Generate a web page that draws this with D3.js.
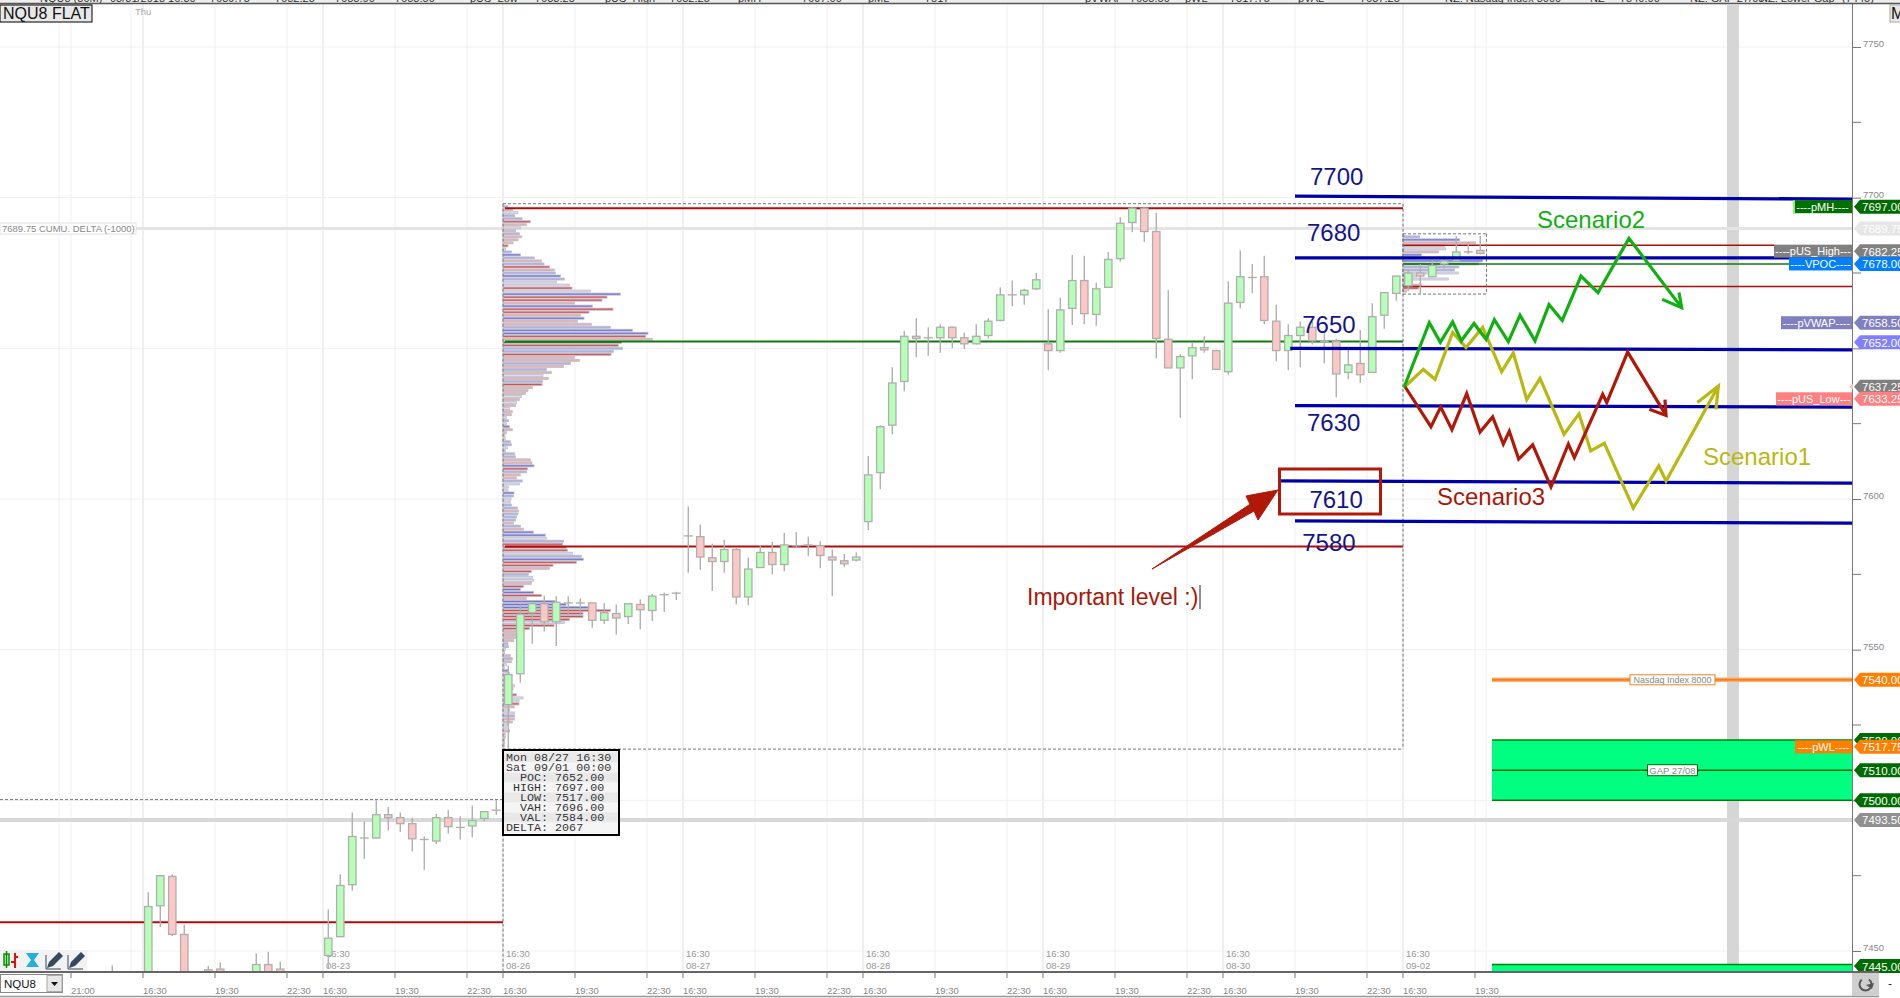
<!DOCTYPE html>
<html>
<head>
<meta charset="utf-8">
<title>NQU8 FLAT</title>
<script src="https://cdnjs.cloudflare.com/ajax/libs/d3/7.8.5/d3.min.js"></script>
<style>
    html, body { margin: 0; padding: 0; background: #fff; overflow: hidden; }
    svg { display: block; font-family: "Liberation Sans", Arial, sans-serif; }
</style>
</head>
<body>
<div id="chart"></div>
<script>
// bar number counted from the 08-22 16:30 bar, 15 bars per session
const candleIdx = [-3, 0, 1, 2, 3, 5, 6, 9, 10, 11].concat(d3.range(15, 112));
const opens = [
    7440, 7440, 7465, 7474.75, 7455.5, 7443.75, 7444, 7441, 7445.5, 7444,
    7448.5, 7454.75, 7472, 7487.5, 7487.5, 7495.25, 7494.25, 7492.25, 7487, 7486.5, 7494.25, 7491, 7491.5, 7494, 7496.75,
    7531.75, 7542, 7562.25, 7565.25, 7559.25, 7565.5, 7565.5, 7565.5, 7559.75, 7562, 7561, 7565, 7563, 7568.25, 7568.75,
    7587.75, 7587.5, 7580.5, 7579.25, 7583.25, 7567.5, 7577.25, 7582.25, 7578.25, 7584.5, 7584.75, 7584.5, 7580.75, 7579.5, 7579.75,
    7592.5, 7608.75, 7624.5, 7639, 7654, 7653.5, 7653.5, 7657, 7653.5, 7651.5, 7654.25, 7659.25, 7667.75, 7667.75, 7669.75,
    7651.5, 7649.25, 7663.25, 7672.5, 7661.25, 7670.25, 7679.75, 7691.75, 7696.5, 7688.75, 7653, 7643.5, 7647.5, 7650.25, 7649.25,
    7642.25, 7665.25, 7673.5, 7673.75, 7659, 7649.25, 7654.25, 7657, 7652.25, 7652.25, 7642, 7645, 7642, 7661, 7668.25,
    7670.75, 7675, 7673.75, 7678, 7679, 7682, 7682.5
];
const closes = [
    7441, 7464.75, 7475, 7455.5, 7440, 7442, 7442, 7445.5, 7441, 7441,
    7454.25, 7471.75, 7488, 7487.5, 7495.25, 7494.25, 7492.25, 7487.25, 7487, 7494.25, 7491.25, 7491, 7493.25, 7496.25, 7496.75,
    7541.75, 7561.75, 7565.25, 7559.25, 7565.75, 7565.5, 7565.5, 7559.75, 7562.25, 7560.5, 7565.25, 7563.25, 7567.75, 7568.25, 7568.75,
    7587.75, 7580.75, 7579.25, 7583.25, 7567.5, 7576.75, 7582.25, 7578.25, 7584.75, 7584.5, 7584.75, 7581.25, 7579.75, 7578.5, 7580.75,
    7608, 7624, 7638.5, 7654, 7653.25, 7653.5, 7657, 7653.5, 7651.5, 7654, 7659, 7667.75, 7667.75, 7669.25, 7672.75,
    7649.25, 7662.75, 7672.5, 7661.5, 7669.75, 7679.5, 7691.5, 7696.5, 7688.75, 7653.25, 7643.5, 7647.25, 7650.25, 7649.5, 7643,
    7665, 7673.75, 7673.5, 7659.25, 7649.25, 7654.25, 7657, 7652.5, 7652.25, 7641.5, 7644.5, 7641.25, 7660.5, 7668.5, 7674,
    7675, 7674, 7677.5, 7679, 7682, 7682, 7681.5
];
const highs = [
    7445.25, 7469.5, 7475, 7475.5, 7458.75, 7445, 7446.25, 7449.25, 7449.75, 7446.5,
    7463.75, 7475.5, 7496, 7493, 7500, 7497.75, 7496, 7494.25, 7488, 7495.5, 7496.75, 7494.75, 7498.25, 7496.25, 7500,
    7544.75, 7565, 7566, 7568, 7567.75, 7567.75, 7567, 7565.5, 7565.5, 7565, 7565.25, 7566.75, 7568.5, 7569, 7569.25,
    7597.5, 7591.5, 7585.25, 7586.5, 7583.75, 7580.5, 7584.75, 7585.75, 7588.75, 7589, 7587.5, 7586, 7583.25, 7581.75, 7582.25,
    7614.25, 7624.5, 7643.75, 7655.75, 7660, 7657, 7658, 7657.25, 7655.25, 7658, 7660, 7670.25, 7672.5, 7669.75, 7675,
    7663, 7666.75, 7681, 7680.75, 7671.75, 7682, 7693.5, 7697, 7697, 7695, 7669.25, 7648, 7652, 7654, 7649.5,
    7672.25, 7682.5, 7678, 7680.75, 7664.5, 7658, 7659, 7659, 7655, 7653.25, 7650, 7656, 7665, 7668.5, 7674,
    7676.25, 7678, 7679.5, 7680.5, 7687.25, 7685.25, 7687.25
];
const lows = [
    7438, 7440, 7458, 7455, 7438, 7440, 7440, 7440, 7440, 7440,
    7444, 7454.75, 7470, 7480.5, 7487.25, 7490, 7489.5, 7483, 7477, 7485.5, 7489, 7487, 7487.75, 7493, 7495.25,
    7517, 7539, 7552, 7556, 7551.25, 7561.5, 7561.5, 7557.25, 7558.5, 7555, 7558.5, 7556.75, 7559.5, 7562.5, 7566.5,
    7575.5, 7576.5, 7569.5, 7575.5, 7565, 7564.75, 7577.25, 7575, 7576, 7584, 7581, 7577, 7567.75, 7577.5, 7579.25,
    7589.75, 7603.25, 7621.5, 7635.75, 7647, 7647.5, 7648.5, 7650, 7649.75, 7651.25, 7653.25, 7659, 7664, 7664.5, 7669.25,
    7642.75, 7648.5, 7657.75, 7658, 7657.5, 7670, 7678.75, 7688.5, 7685.25, 7646.75, 7643.5, 7627, 7639.75, 7648.5, 7643,
    7641.25, 7663.25, 7668.25, 7658, 7645.75, 7642.75, 7643.75, 7651.25, 7645, 7633.75, 7639.75, 7638.5, 7642, 7656.5, 7665.75,
    7669, 7668, 7673.75, 7676.5, 7679, 7681.25, 7681.25
];

// volume profile 08-27 -> 09-01, one row per point from 7697 down
const profileTop = 7697;
const profileVol = [
    15, 28, 45, 35, 57, 82, 70, 52, 38, 49, 55, 45, 30, 15, 8, 25, 52, 94, 115, 123,
    139, 154, 157, 172, 184, 160, 199, 207, 262, 352, 312, 297, 214, 268, 330, 258, 232, 243, 223, 265,
    322, 388, 435, 428, 448, 355, 346, 358, 331, 324, 214, 229, 202, 181, 130, 145, 120, 136, 118, 117,
    88, 75, 67, 55, 49, 40, 37, 20, 28, 25, 10, 16, 10, 19, 28, 10, 6, 7, 22, 25, 13,
    7, 35, 37, 82, 87, 93, 73, 70, 52, 40, 58, 49, 16, 15, 33, 31, 24, 22, 25, 43,
    46, 45, 40, 37, 31, 52, 61, 91, 127, 130, 181, 178, 190, 193, 208, 235, 241, 220, 150, 139,
    85, 76, 88, 91, 85, 61, 52, 91, 115, 70, 156, 189, 255, 322, 240, 240, 199, 184, 153, 79,
    40, 38, 38, 32, 15, 16, 7, 5, 22, 28, 25, 10, 4, 16, 20, 15, 10, 10, 35, 30,
    10, 40, 60, 48, 48, 34, 20, 34, 35, 34, 28, 15, 10, 20, 7, 7, 5, 5, 4, 4
];
const profileKind = ("brlbbRrlrbrrrRlbBbrbRrbBbllRlBRRrBRRrBrrbBBRrGRbbRrrbrbrlrbRrrrlrlrlrrlblBrrllbbl" +
    "bbbrrBRbrrblllBbllbbrbbbrbrBBlbRRRlbBRRrRbllrRBBRrBBBRRRRlRRrrrrbbllrbrllBllllll" + "lRllRrllbrrllrrrrrrr").split("");

// small profile of the 09-02 session
const smallTop = 7687;
const smallVol = [50, 170, 218, 125, 128, 106, 55, 40, 238, 227, 168, 154, 166, 40, 136, 28, 55, 46, 10];
const smallKind = "bBrrlrBbBGbbllllrRr".split("");

// scenario drawings, bar number and price
const scen2Idx = [105.08, 107.19, 108.11, 109.14, 109.86, 110.92, 111.92, 112.61, 113.78, 114.75, 116, 117.17, 118.27, 119.83, 121.25, 123.83, 128.22];
const scen2Px = [7637, 7658.5, 7652, 7658.75, 7652.5, 7658.25, 7653, 7659.5, 7652.25, 7661, 7652.5, 7664.5, 7659.25, 7674, 7668.5, 7686.5, 7663.5];
const scen2HeadIdx = [126.6, 128.22, 128];
const scen2HeadPx = [7666.25, 7663.5, 7668.5];

const scen1Idx = [105.08, 106.69, 107.67, 109.14, 110.25, 111.64, 113.22, 114.19, 115.31, 116.42, 118.42, 119.67, 120.64, 121.78, 124.19, 126.31, 126.92, 131.28];
const scen1Px = [7637, 7643, 7639.75, 7655.25, 7650.25, 7657, 7642.25, 7648.5, 7633, 7640, 7621.5, 7628.25, 7616, 7618.5, 7597, 7611, 7606, 7637.5];
const scen1HeadIdx = [129.53, 131.28, 131.08];
const scen1HeadPx = [7632, 7637.5, 7629.75];

const scen3Idx = [105.17, 107.33, 108.14, 109.08, 110.31, 111.42, 112.47, 113.36, 113.86, 114.64, 115.81, 117.33, 118.78, 119.28, 121.64, 121.98, 123.72, 126.92];
const scen3Px = [7637.25, 7624, 7630.5, 7623, 7635, 7622.25, 7627.25, 7618.25, 7622.5, 7613.25, 7618, 7604, 7618.25, 7613.75, 7634.75, 7632, 7648.75, 7627.75];
const scen3HeadIdx = [125.53, 126.92, 126.83];
const scen3HeadPx = [7629.75, 7627.75, 7633];

// hand drawn blue levels: start bar, price at start, price at the right edge
const blueNames = ["7700", "7680", "7650", "7630", "7610", "7580"];
const blueStart = [96, 96, 95.6, 96, 94.7, 96];
const bluePxA = [7700.5, 7680, 7650, 7631, 7606, 7592.75];
const bluePxB = [7699.5, 7680, 7649.5, 7630.5, 7605.25, 7592];
const blueNameIdx = [97.25, 97, 96.6, 97, 97.2, 96.6];
const blueNamePx = [7704.25, 7685.5, 7655, 7622.5, 7597, 7582.75];

const arrowIdx = [84.08, 92.25, 91.92, 94.58, 92.92, 92.58];
const arrowPx = [7576.75, 7598.25, 7601, 7603, 7593, 7596];

// price tags on the right edge
const tagPx = [7697, 7689.75, 7682.25, 7678, 7658.5, 7652, 7637.25, 7633.25, 7540, 7520, 7517.75, 7510, 7500, 7493.5, 7445];
const tagText = ["7697.00", "7689.75", "7682.25", "7678.00", "7658.50", "7652.00", "7637.25", "7633.25", "7540.00", "7520.00", "7517.75", "7510.00", "7500.00", "7493.50", "7445.00"];
const tagFill = ["#006b00", "#e6e6e6", "#808080", "#0080ff", "#8080c0", "#8080ff", "#808080", "#ff8080", "#ff8000", "#006b00", "#ff8000", "#006b00", "#006b00", "#909090", "#006b00"];

const noteText = ["----pMH----", "----pUS_High---", "----VPOC----", "----pVWAP----", "----pUS_Low---", "----pWL----"];
const notePx = [7697, 7682.25, 7678, 7658.5, 7633.25, 7517.75];
const noteWidth = [59, 78, 63, 71, 76, 57];
const noteFill = ["#007000", "#808080", "#0080ff", "#8080c0", "#ff8080", "#ff8000"];

const priceTicks = [7750, 7700, 7650, 7600, 7550, 7500, 7450];
const priceMinor = [7725, 7675, 7625, 7575, 7525, 7475];

const sessionIdx = [15, 30, 45, 60, 75, 90, 105];
const sessionDates = ["08-23", "08-26", "08-27", "08-28", "08-29", "08-30", "09-02"];
const timeIdx = [-6, 0, 6, 12, 15, 21, 27, 30, 36, 42, 45, 51, 57, 60, 66, 72, 75, 81, 87, 90, 96, 102, 105, 111];
const timeLabels = ["21:00", "16:30", "19:30", "22:30", "16:30", "19:30", "22:30", "16:30", "19:30", "22:30", "16:30", "19:30", "22:30", "16:30", "19:30", "22:30", "16:30", "19:30", "22:30", "16:30", "19:30", "22:30", "16:30", "19:30"];
const extraGridIdx = [-7, -1, 111.92];

const statsRows = ["Mon 08/27 16:30", "Sat 09/01 00:00", "  POC: 7652.00", " HIGH: 7697.00", "  LOW: 7517.00", "  VAH: 7696.00", "  VAL: 7584.00", "DELTA: 2067"];

const topBarX = [40, 110, 210, 275, 335, 395, 470, 535, 605, 670, 738, 802, 868, 925, 1085, 1130, 1185, 1230, 1298, 1360, 1445, 1590, 1620, 1690, 1760, 1842];
const topBarText = ["NQU8 (30M)", "08/31/2018 16:30", "7689.75", "7652.25", "7685.00", "7658.50", "pUS_Low", "7633.25", "pUS_High", "7682.25", "pMH", "7697.00", "pML", "7517", "pVWAP", "7658.50", "pWL", "7517.75", "pVAL", "7637.25", "NZ: Nasdaq Index 8000", "NZ", "7540.00", "NZ: GAP 27/08", "NZ: Lower Gap", "(7445)"];

const W = 1900, H = 998;
const chartRight = 1852, chartBottom = 972;

const x = d3.scaleLinear().domain([0, 105]).range([143, 1403]);
const y = d3.scaleLinear().domain([7750, 7450]).range([47, 951]);
const vol = d3.scaleLinear().domain([0, 450]).range([0, 150]);

const kindColor = { b: "#aeb0ea", B: "#7074e0", l: "#dcdcf2", r: "#ecb0b0", R: "#dc4c4c", G: "#2a7a10" };

const svg = d3.select("#chart").append("svg")
    .attr("width", W)
    .attr("height", H);

svg.append("defs").append("clipPath").attr("id", "plot-clip")
    .append("rect")
    .attr("x", 0).attr("y", 4)
    .attr("width", chartRight).attr("height", chartBottom - 4);

const plot = svg.append("g").attr("clip-path", "url(#plot-clip)");

// grid
plot.selectAll(".hgrid")
    .data(priceTicks)
    .enter()
    .append("line")
    .attr("x1", 0).attr("x2", chartRight)
    .attr("y1", d => y(d)).attr("y2", d => y(d))
    .attr("stroke", "#f0f0f0");

plot.selectAll(".vgrid")
    .data(timeIdx.concat(extraGridIdx))
    .enter()
    .append("line")
    .attr("x1", d => x(d)).attr("x2", d => x(d))
    .attr("y1", 4).attr("y2", chartBottom)
    .attr("stroke", "#f1f1f1");

plot.selectAll(".sgrid")
    .data([0].concat(sessionIdx))
    .enter()
    .append("line")
    .attr("x1", d => x(d)).attr("x2", d => x(d))
    .attr("y1", 4).attr("y2", chartBottom)
    .attr("stroke", "#efefef")
    .attr("stroke-width", 2);

// time labels sitting inside the plot
sessionIdx.forEach((s, i) => {
    const g = plot.append("g").attr("fill", "#999").style("font-size", "9.5px");
    g.append("text").attr("x", x(s) + 3).attr("y", 957).text("16:30");
    g.append("text").attr("x", x(s) + 3).attr("y", 969).text(sessionDates[i]);
});

plot.append("text")
    .attr("x", 135).attr("y", 15)
    .attr("fill", "#aaa")
    .style("font-size", "9.5px")
    .text("Thu");

// grey band, wide lines
plot.append("rect")
    .attr("x", 1727).attr("y", 5)
    .attr("width", 12).attr("height", 959)
    .attr("fill", "#d6d6d6");

plot.append("line")
    .attr("x1", 0).attr("x2", chartRight)
    .attr("y1", y(7689.75)).attr("y2", y(7689.75))
    .attr("stroke", "#e4e4e4").attr("stroke-width", 3);

plot.append("line")
    .attr("x1", 0).attr("x2", chartRight)
    .attr("y1", y(7493.5)).attr("y2", y(7493.5))
    .attr("stroke", "#d8d8d8").attr("stroke-width", 4);

// zones
function zone(top, bottom, label) {
    plot.append("rect")
        .attr("x", 1492).attr("y", y(top))
        .attr("width", chartRight - 1492).attr("height", y(bottom) - y(top))
        .attr("fill", "#00ff80");
    plot.append("line")
        .attr("x1", 1492).attr("x2", chartRight)
        .attr("y1", y(top)).attr("y2", y(top))
        .attr("stroke", "#008000").attr("stroke-width", 1.5);
    plot.append("line")
        .attr("x1", 1492).attr("x2", chartRight)
        .attr("y1", y(bottom)).attr("y2", y(bottom))
        .attr("stroke", "#008000").attr("stroke-width", 1.5);
}
zone(7520, 7500);
zone(7445.5, 7440);

plot.append("line")
    .attr("x1", 1492).attr("x2", chartRight)
    .attr("y1", y(7510)).attr("y2", y(7510))
    .attr("stroke", "#006b00").attr("stroke-width", 1.5);

plot.append("rect")
    .attr("x", 1647.5).attr("y", y(7510) - 5.5)
    .attr("width", 50).attr("height", 11)
    .attr("fill", "#fff").attr("stroke", "#006b00");
plot.append("text")
    .attr("x", 1672.5).attr("y", y(7510) + 3.5)
    .attr("text-anchor", "middle")
    .attr("fill", "#888")
    .style("font-size", "9.5px")
    .text("GAP 27/08");

plot.append("line")
    .attr("x1", 1492).attr("x2", chartRight)
    .attr("y1", y(7540)).attr("y2", y(7540))
    .attr("stroke", "#ffb070").attr("stroke-width", 4.5);
plot.append("line")
    .attr("x1", 1492).attr("x2", chartRight)
    .attr("y1", y(7540)).attr("y2", y(7540))
    .attr("stroke", "#f08020").attr("stroke-width", 2);
plot.append("rect")
    .attr("x", 1630).attr("y", y(7540) - 5)
    .attr("width", 85).attr("height", 10)
    .attr("fill", "#fff").attr("stroke", "#f08020");
plot.append("text")
    .attr("x", 1672.5).attr("y", y(7540) + 3.5)
    .attr("text-anchor", "middle")
    .attr("fill", "#888")
    .style("font-size", "9px")
    .text("Nasdaq Index 8000");

// volume profiles
function drawProfile(vols, kinds, top, x0) {
    plot.append("g")
        .selectAll("rect")
        .data(vols)
        .enter()
        .append("rect")
        .attr("x", x0)
        .attr("y", (d, i) => y(top - i) - 1)
        .attr("width", d => vol(d))
        .attr("height", 2)
        .attr("fill", (d, i) => kindColor[kinds[i]])
        .attr("stroke", "#bcbcc8")
        .attr("stroke-width", 0.8);
}
drawProfile(profileVol, profileKind, profileTop, x(30));
drawProfile(smallVol, smallKind, smallTop, x(105));

// session levels
function levelLine(x1, x2, price, color, w) {
    plot.append("line")
        .attr("x1", x1).attr("x2", x2)
        .attr("y1", y(price)).attr("y2", y(price))
        .attr("stroke", color).attr("stroke-width", w);
}
levelLine(0, x(30), 7459.5, "#b00c0c", 2);
levelLine(x(30) + 2, x(105), 7696.5, "#b00c0c", 2);
levelLine(x(30) + 2, x(105), 7584.25, "#b00c0c", 2);
levelLine(x(30) + 2, x(105), 7652.25, "#107a10", 2);
levelLine(x(105), 1774, 7684.25, "#b00c0c", 1.5);
levelLine(x(105), chartRight, 7670.5, "#b00c0c", 1.5);
levelLine(x(105), 1789, 7678, "#107a10", 1.5);

// dashed boxes
function dashed(x1, y1, x2, y2) {
    plot.append("line")
        .attr("x1", x1).attr("y1", y1).attr("x2", x2).attr("y2", y2)
        .attr("stroke", "#777")
        .attr("stroke-dasharray", "3,2");
}
dashed(x(30), y(7698), x(105), y(7698));
dashed(x(30), y(7517), x(105), y(7517));
dashed(x(30), y(7698), x(30), chartBottom);
dashed(x(105), y(7698), x(105), y(7517));
dashed(0, y(7500.25), x(30), y(7500.25));
dashed(x(105), y(7688), 1486.5, y(7688));
dashed(x(105), y(7668), 1486.5, y(7668));
dashed(x(105), y(7688), x(105), y(7668));
dashed(1486.5, y(7688), 1486.5, y(7668));

// candles
const candles = candleIdx.map((d, i) => ({ idx: d, o: opens[i], c: closes[i], h: highs[i], l: lows[i] }));
const candleG = plot.append("g");

candleG.selectAll(".wick")
    .data(candles)
    .enter()
    .append("line")
    .attr("x1", d => x(d.idx + 0.44)).attr("x2", d => x(d.idx + 0.44))
    .attr("y1", d => y(d.h)).attr("y2", d => y(d.l))
    .attr("stroke", "#b0b0b0")
    .attr("stroke-width", 1.4);

candleG.selectAll(".body")
    .data(candles.filter(d => d.o !== d.c))
    .enter()
    .append("rect")
    .attr("x", d => x(d.idx + 0.44) - 3.7)
    .attr("width", 7.4)
    .attr("y", d => y(Math.max(d.o, d.c)))
    .attr("height", d => Math.abs(y(d.o) - y(d.c)))
    .attr("fill", d => d.c > d.o ? "#b6ffb6" : "#ffc6c6")
    .attr("stroke", "#acb0ac")
    .attr("stroke-width", 1.3);

candleG.selectAll(".doji")
    .data(candles.filter(d => d.o === d.c))
    .enter()
    .append("line")
    .attr("x1", d => x(d.idx + 0.44) - 4.5).attr("x2", d => x(d.idx + 0.44) + 4.5)
    .attr("y1", d => y(d.c)).attr("y2", d => y(d.c))
    .attr("stroke", "#b0b0b0")
    .attr("stroke-width", 1.4);

// blue levels and their names
blueNames.forEach((name, i) => {
    plot.append("line")
        .attr("x1", x(blueStart[i])).attr("x2", chartRight)
        .attr("y1", y(bluePxA[i])).attr("y2", y(bluePxB[i]))
        .attr("stroke", "#0000a8")
        .attr("stroke-width", 3.3);
});

svg.append("g").selectAll("text")
    .data(blueNames)
    .enter()
    .append("text")
    .attr("x", (d, i) => x(blueNameIdx[i]))
    .attr("y", (d, i) => y(blueNamePx[i]))
    .attr("fill", "#14148c")
    .style("font-size", "24px")
    .text(d => d);

// scenarios
const scenLine = d3.line().x(d => x(d[0])).y(d => y(d[1]));
function scenario(idx, px, headIdx, headPx, color) {
    const g = svg.append("g")
        .attr("fill", "none")
        .attr("stroke", color)
        .attr("stroke-width", 3.2)
        .attr("stroke-linejoin", "miter");
    g.append("path").attr("d", scenLine(d3.zip(idx, px)));
    g.append("path").attr("d", scenLine(d3.zip(headIdx, headPx)));
}
scenario(scen1Idx, scen1Px, scen1HeadIdx, scen1HeadPx, "#b8b810");
scenario(scen3Idx, scen3Px, scen3HeadIdx, scen3HeadPx, "#b01808");
scenario(scen2Idx, scen2Px, scen2HeadIdx, scen2HeadPx, "#10b010");

function note(tx, ty, color, text) {
    svg.append("text")
        .attr("x", tx).attr("y", ty)
        .attr("fill", color)
        .style("font-size", "24px")
        .text(text);
}
note(1537, 228, "#10b010", "Scenario2");
note(1703, 465, "#b8b810", "Scenario1");
note(1437, 505, "#a81808", "Scenario3");

// important level call-out
svg.append("rect")
    .attr("x", 1279.5).attr("y", 469)
    .attr("width", 101).attr("height", 45)
    .attr("fill", "none")
    .attr("stroke", "#b01808")
    .attr("stroke-width", 3);

svg.append("path")
    .attr("d", d3.line().x(d => x(d[0])).y(d => y(d[1]))(d3.zip(arrowIdx, arrowPx)) + "Z")
    .attr("fill", "#b01808")
    .attr("stroke", "#b01808");

svg.append("text")
    .attr("x", 1027).attr("y", 605)
    .attr("fill", "#a81808")
    .style("font-size", "23px")
    .text("Important level :)");
svg.append("line")
    .attr("x1", 1200).attr("x2", 1200)
    .attr("y1", 585).attr("y2", 609)
    .attr("stroke", "#222");

// stats box
const stats = svg.append("g").attr("transform", "translate(503,750)");
stats.append("rect")
    .attr("width", 116).attr("height", 85)
    .attr("fill", "#f5f5f5")
    .attr("stroke", "#000")
    .attr("stroke-width", 2);
stats.selectAll(".row")
    .data(statsRows)
    .enter()
    .append("rect")
    .attr("x", 1).attr("y", (d, i) => 2.5 + i * 10)
    .attr("width", 114).attr("height", 10)
    .attr("fill", (d, i) => i % 2 === 0 ? "#e9e9e9" : "#f5f5f5");
stats.selectAll("text")
    .data(statsRows)
    .enter()
    .append("text")
    .attr("x", 3).attr("y", (d, i) => 11 + i * 10)
    .attr("fill", "#333")
    .style("font-family", "'Liberation Mono', monospace")
    .style("font-size", "11.7px")
    .style("white-space", "pre")
    .text(d => d);

// cumulative delta caption
svg.append("rect")
    .attr("x", 0).attr("y", y(7689.75) - 5.5)
    .attr("width", 136).attr("height", 11)
    .attr("fill", "#fff").attr("stroke", "#e0e0e0");
svg.append("text")
    .attr("x", 2).attr("y", y(7689.75) + 3.5)
    .attr("fill", "#888")
    .style("font-size", "9.5px")
    .text("7689.75 CUMU. DELTA (-1000)");

// price axis
const axisRight = svg.append("g")
    .attr("transform", `translate(${chartRight},0)`)
    .call(d3.axisRight(y).tickValues(priceTicks).tickSize(9).tickFormat(d3.format("d")));
axisRight.select(".domain").attr("stroke", "#777").attr("d", "M0.5,4V972");
axisRight.selectAll(".tick line").attr("stroke", "#777");
axisRight.selectAll(".tick text")
    .attr("x", 11).attr("dy", "-0.05em")
    .attr("fill", "#888")
    .style("font-family", "'Liberation Sans', Arial, sans-serif")
    .style("font-size", "9.5px");

svg.append("g").selectAll("line")
    .data(priceMinor)
    .enter()
    .append("line")
    .attr("x1", chartRight).attr("x2", chartRight + 9)
    .attr("y1", d => y(d)).attr("y2", d => y(d))
    .attr("stroke", "#777");

// notes left of the axis
noteText.forEach((t, i) => {
    const g = svg.append("g").attr("transform", `translate(${chartRight - noteWidth[i]},${y(notePx[i])})`);
    g.append("rect")
        .attr("y", -6.5)
        .attr("width", noteWidth[i]).attr("height", 13)
        .attr("fill", noteFill[i]);
    g.append("text")
        .attr("x", noteWidth[i] / 2).attr("y", 4)
        .attr("text-anchor", "middle")
        .attr("fill", "#fff")
        .style("font-size", "11px")
        .text(t);
});
svg.append("rect")
    .attr("x", 1793).attr("y", y(7697) - 6.5)
    .attr("width", 2).attr("height", 13)
    .attr("fill", "#90f070");

// price tags
svg.append("path")
    .attr("d", `M1849,${y(7637.25)}l4,-3v6z`)
    .attr("fill", "#ffc0c0");

const tags = svg.append("g");
tagPx.forEach((p, i) => {
    const g = tags.append("g").attr("transform", `translate(1854,${y(p)})`);
    g.append("path")
        .attr("d", "M0,0L6,-7H46V7H6Z")
        .attr("fill", tagFill[i]);
    g.append("text")
        .attr("x", 8).attr("y", 4.5)
        .attr("fill", "#fff")
        .style("font-size", "11.5px")
        .text(tagText[i]);
});

// time axis
svg.append("rect")
    .attr("x", 0).attr("y", chartBottom)
    .attr("width", chartRight).attr("height", H - chartBottom)
    .attr("fill", "#fff");
svg.append("line")
    .attr("x1", 0).attr("x2", chartRight + 27)
    .attr("y1", chartBottom).attr("y2", chartBottom)
    .attr("stroke", "#666").attr("stroke-width", 2);

svg.append("g").selectAll("line")
    .data(timeIdx)
    .enter()
    .append("line")
    .attr("x1", d => x(d)).attr("x2", d => x(d))
    .attr("y1", chartBottom).attr("y2", chartBottom + 6)
    .attr("stroke", "#777");

svg.append("g").selectAll("text")
    .data(timeLabels)
    .enter()
    .append("text")
    .attr("x", (d, i) => x(timeIdx[i]))
    .attr("y", 994)
    .attr("fill", "#888")
    .style("font-size", "9.5px")
    .text(d => d);

svg.append("line")
    .attr("x1", 0).attr("x2", chartRight + 27)
    .attr("y1", 996.5).attr("y2", 996.5)
    .attr("stroke", "#999").attr("stroke-width", 1.5);

// symbol drop-down
svg.append("rect")
    .attr("x", 0.5).attr("y", 974.5)
    .attr("width", 62).attr("height", 18)
    .attr("fill", "#fff").attr("stroke", "#888");
svg.append("rect")
    .attr("x", 47).attr("y", 975.5)
    .attr("width", 15).attr("height", 16)
    .attr("fill", "#e8e8e8").attr("stroke", "#aaa");
svg.append("path").attr("d", "M51,982h7l-3.5,4z").attr("fill", "#111");
svg.append("text")
    .attr("x", 4).attr("y", 988)
    .attr("fill", "#111")
    .style("font-size", "11.5px")
    .text("NQU8");

// toolbar icons
const icons = svg.append("g");
icons.append("rect")
    .attr("x", 0).attr("y", 950)
    .attr("width", 87).attr("height", 21)
    .attr("fill", "#f2f2f2");
icons.append("rect").attr("x", 4).attr("y", 954).attr("width", 5).attr("height", 11).attr("fill", "#b6ffb6").attr("stroke", "#0a8a0a").attr("stroke-width", 1.5);
icons.append("line").attr("x1", 6.5).attr("x2", 6.5).attr("y1", 951).attr("y2", 968).attr("stroke", "#0a8a0a").attr("stroke-width", 1.5);
icons.append("line").attr("x1", 15).attr("x2", 15).attr("y1", 953).attr("y2", 968).attr("stroke", "#e01010").attr("stroke-width", 2);
icons.append("path").attr("d", "M11,962h4M15,957h3").attr("stroke", "#e01010").attr("stroke-width", 2);
icons.append("path").attr("d", "M26,953h13l-5,7l5,7h-13l5,-7z").attr("fill", "#22b0e0");
[47, 69].forEach(px => {
    icons.append("path")
        .attr("d", `M${px},968l2,-6l10,-10l4,4l-10,10z`)
        .attr("fill", "#34495e");
    icons.append("path")
        .attr("d", `M${px - 1},955v14h15`)
        .attr("fill", "none")
        .attr("stroke", "#34495e");
});

// reload button
svg.append("rect")
    .attr("x", chartRight).attr("y", 973)
    .attr("width", 27).attr("height", 23)
    .attr("fill", "#cfcfcf");
svg.append("path")
    .attr("d", d3.arc().innerRadius(5).outerRadius(7).startAngle(0.6).endAngle(5.6)())
    .attr("transform", "translate(1865.5,984.5)")
    .attr("fill", "#555");
svg.append("path").attr("d", "M1866,985l6,4l2,-6z").attr("fill", "#555");
svg.append("text")
    .attr("x", 1888).attr("y", 988)
    .attr("fill", "#333")
    .style("font-size", "12px")
    .text("-");

// clipped status bar on top
svg.append("rect")
    .attr("width", W).attr("height", 3)
    .attr("fill", "#eeeeee");
svg.append("defs").append("clipPath").attr("id", "top-clip")
    .append("rect").attr("width", W).attr("height", 3);
svg.append("g")
    .attr("clip-path", "url(#top-clip)")
    .selectAll("text")
    .data(topBarText)
    .enter()
    .append("text")
    .attr("x", (d, i) => topBarX[i])
    .attr("y", 2)
    .attr("fill", "#333")
    .style("font-size", "11px")
    .text(d => d);
svg.append("line")
    .attr("x1", 0).attr("x2", W)
    .attr("y1", 3.5).attr("y2", 3.5)
    .attr("stroke", "#555").attr("stroke-width", 1.5);

// name labels in the corners
svg.append("rect")
    .attr("x", 0).attr("y", 5)
    .attr("width", 92).attr("height", 17)
    .attr("fill", "#e8e8e8").attr("stroke", "#000");
svg.append("text")
    .attr("x", 3).attr("y", 19)
    .attr("fill", "#111")
    .style("font-size", "16px")
    .text("NQU8 FLAT");
svg.append("rect")
    .attr("x", 1890).attr("y", 5)
    .attr("width", 30).attr("height", 17)
    .attr("fill", "#e8e8e8").attr("stroke", "#aaa");
svg.append("text")
    .attr("x", 1891).attr("y", 19)
    .attr("fill", "#111")
    .style("font-size", "16px")
    .text("M");
</script>
</body>
</html>
